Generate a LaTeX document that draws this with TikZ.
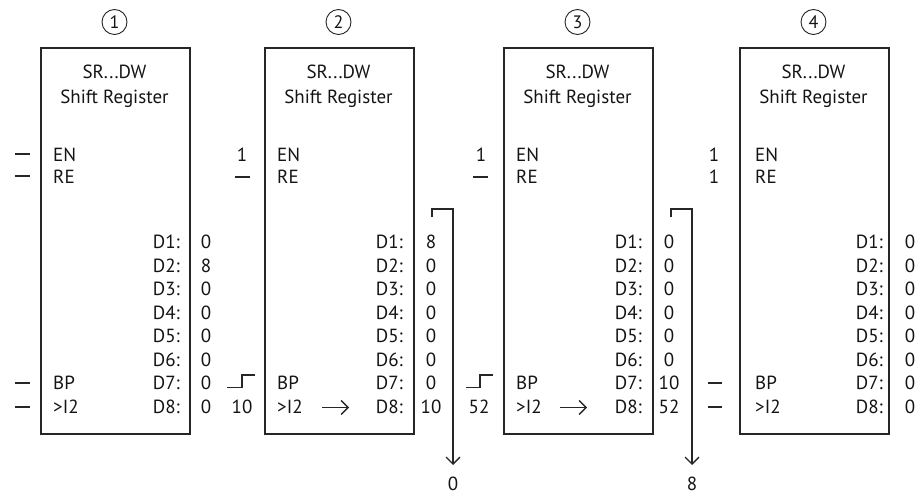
\documentclass[tikz,border=0pt]{standalone}
\usepackage{fontspec}
\setmainfont{PT Sans}
\usetikzlibrary{arrows.meta}
\tikzset{
  regbox/.style={draw=black!85, line width=1.6pt, minimum width=149pt, minimum height=386pt, inner sep=0pt, anchor=north west},
  lbl/.style={font=\fontsize{19}{21}\selectfont, inner sep=0pt, text=black!92},
  wire/.style={line width=1.3pt, black!85},
  tipped/.style={-{Straight Barb[length=7pt,width=14pt,line width=1.3pt]}},
  circnum/.style={draw=black!85, circle, line width=0.9pt, minimum size=25pt, inner sep=0pt, font=\fontsize{18}{19}\selectfont, text=black!92},
}
\begin{document}
\begin{tikzpicture}[x=1pt,y=-1pt]
\useasboundingbox (0,0) rectangle (919,495);

% ---------- generic block contents ----------
\foreach \i/\L/\lo/\ro in {1/40/13/9, 2/264/13/10, 3/503/13/10, 4/739/16/5} {
  \pgfmathsetmacro\R{\L+149}
  \pgfmathsetmacro\C{\L+74.5}
  \node[circnum] (n\i) at (\C,22) {\i};
  \node[regbox] (box\i) at (\L,47) {};
  \node[lbl, anchor=base] (ta\i) at (\C,78.5) {SR...DW};
  \node[lbl, anchor=base] (tb\i) at (\C,103.5) {Shift Register};
  \node[lbl, anchor=base west] (en\i) at (\L+\lo,161.5) {EN};
  \node[lbl, anchor=base west] (re\i) at (\L+\lo,183.5) {RE};
  \node[lbl, anchor=base west] (bp\i) at (\L+\lo,389.5) {BP};
  \node[lbl, anchor=base west] (ii\i) at (\L+\lo,413.5) {>I2};
  \foreach \k in {1,...,8} {
    \pgfmathsetmacro\Y{242+(\k-1)*23.57+6.5}
    \node[lbl, anchor=base east] (d\i\k) at (\R-\ro,\Y) {D\k:};
  }
}

% ---------- values ----------
\foreach \i/\R/\vals in {1/206/{0,8,0,0,0,0,0,0}, 2/431/{8,0,0,0,0,0,0,10}, 3/669/{0,0,0,0,0,0,10,52}, 4/910/{0,0,0,0,0,0,0,0}} {
  \foreach \v [count=\k] in \vals {
    \pgfmathsetmacro\Y{242+(\k-1)*23.57+6.5}
    \node[lbl, anchor=base] (v\i\k) at (\R,\Y) {\v};
  }
}

% ---------- inputs, block 1 ----------
\coordinate (a1) at (15,154); \coordinate (b1) at (30,154);
\coordinate (a2) at (15,176); \coordinate (b2) at (30,176);
\coordinate (a3) at (15,383); \coordinate (b3) at (30,383);
\coordinate (a4) at (15,407); \coordinate (b4) at (30,407);
\foreach \j in {1,...,4} \draw[wire] (a\j) -- (b\j);

% ---------- inputs, block 2 ----------
\node[lbl, anchor=base] (in2en) at (242,161.5) {1};
\coordinate (r2a) at (235,177); \coordinate (r2b) at (250,177);
\draw[wire] (r2a) -- (r2b);
\coordinate (s2a) at (227,387.5); \coordinate (s2b) at (242,387.5);
\coordinate (s2c) at (242,375); \coordinate (s2d) at (255,375);
\draw[wire] (s2a) -- (s2b) -- (s2c) -- (s2d);
\node[lbl, anchor=base] (in2i) at (242,413.5) {10};
\coordinate (p2a) at (322,407.5); \coordinate (p2b) at (349,407.5);
\draw[wire, tipped] (p2a) -- (p2b);
\coordinate (o2a) at (432,217); \coordinate (o2b) at (432,209);
\coordinate (o2c) at (453,209); \coordinate (o2d) at (453,465);
\draw[wire, tipped] (o2a) -- (o2b) -- (o2c) -- (o2d);
\node[lbl, anchor=base] (out2) at (453,490.5) {0};

% ---------- inputs, block 3 ----------
\node[lbl, anchor=base] (in3en) at (481,161.5) {1};
\coordinate (r3a) at (473,177); \coordinate (r3b) at (488,177);
\draw[wire] (r3a) -- (r3b);
\coordinate (s3a) at (466,387.5); \coordinate (s3b) at (480,387.5);
\coordinate (s3c) at (480,375); \coordinate (s3d) at (493,375);
\draw[wire] (s3a) -- (s3b) -- (s3c) -- (s3d);
\node[lbl, anchor=base] (in3i) at (479,413.5) {52};
\coordinate (p3a) at (560,407.5); \coordinate (p3b) at (587,407.5);
\draw[wire, tipped] (p3a) -- (p3b);
\coordinate (o3a) at (671,217); \coordinate (o3b) at (671,209);
\coordinate (o3c) at (692,209); \coordinate (o3d) at (692,465);
\draw[wire, tipped] (o3a) -- (o3b) -- (o3c) -- (o3d);
\node[lbl, anchor=base] (out3) at (692,490.5) {8};

% ---------- inputs, block 4 ----------
\node[lbl, anchor=base] (in4en) at (714,161.5) {1};
\node[lbl, anchor=base] (in4re) at (714,183.5) {1};
\coordinate (q4a) at (708,383); \coordinate (q4b) at (722,383);
\coordinate (q4c) at (708,407); \coordinate (q4d) at (722,407);
\draw[wire] (q4a) -- (q4b);
\draw[wire] (q4c) -- (q4d);
\end{tikzpicture}
\end{document}
